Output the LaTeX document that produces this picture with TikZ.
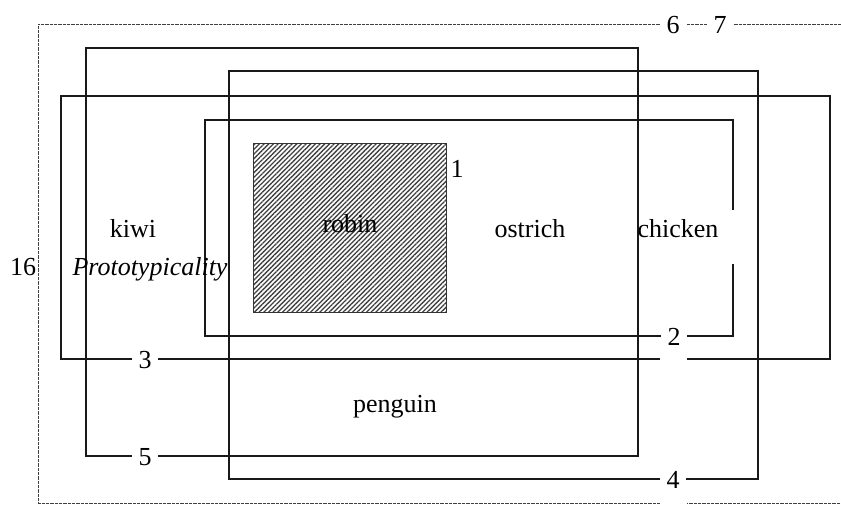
\documentclass[tikz,border=0pt]{standalone}
\usepackage{fontspec}
\setmainfont{Liberation Serif}
\usetikzlibrary{patterns.meta}
\begin{document}
\begin{tikzpicture}[x=1pt,y=-1pt,
  frame/.style={draw=black!90,line width=1.1pt},
  outline/.style={draw=black!75,line width=0.9pt,dash pattern=on 0.8pt off 0.5pt},
  lbl/.style={font=\fontsize{26}{30}\selectfont,inner sep=0pt,anchor=base},
  tag/.style={lbl,fill=white,inner xsep=6.5pt,inner ysep=1pt},
  hatched/.style={draw=black!80,line width=1pt,
    pattern={Lines[angle=45,distance=3.3pt,line width=1.3pt]},pattern color=black!75}]
\useasboundingbox (0,0) rectangle (841,506);
\clip (0,0) rectangle (841,506);

% outer dotted frame (runs past the right edge)
\draw[outline] (660,503) -| (38,24) -- (860,24) -- (860,503) -- (687,503);

% nested frames
\draw[frame] (86,48) rectangle (638,456);
\draw[frame] (229,71) rectangle (758,479);
\draw[frame] (660,359) -| (61,96) -| (830,359) -- (687,359);
\draw[frame] (733,210) |- (205,120) |- (733,336) -- (733,264);

% hatched core
\node[hatched,minimum width=193pt,minimum height=169pt,inner sep=0pt] (core) at (349.5,227.5) {};

% frame numbers
\node[lbl] (n1) at (457,177) {1};
\node[tag] (n2) at (674,345.5) {2};
\node[tag] (n3) at (145,368.5) {3};
\node[tag] (n4) at (673,488.5) {4};
\node[tag] (n5) at (145,465.5) {5};
\node[tag] (n6) at (673,33.5) {6};
\node[tag] (n7) at (720,33.5) {7};
\node[lbl] (n16) at (23,275) {16};

% category members
\node[lbl] (robin) at (350,232) {robin};
\node[lbl] (kiwi) at (133,237) {kiwi};
\node[lbl] (ostrich) at (530,237) {ostrich};
\node[lbl] (chicken) at (678,237) {chicken};
\node[lbl] (penguin) at (395,412) {penguin};
\node[lbl,font=\fontsize{26}{30}\selectfont\itshape] (proto) at (150,275) {Prototypicality};
\end{tikzpicture}
\end{document}
